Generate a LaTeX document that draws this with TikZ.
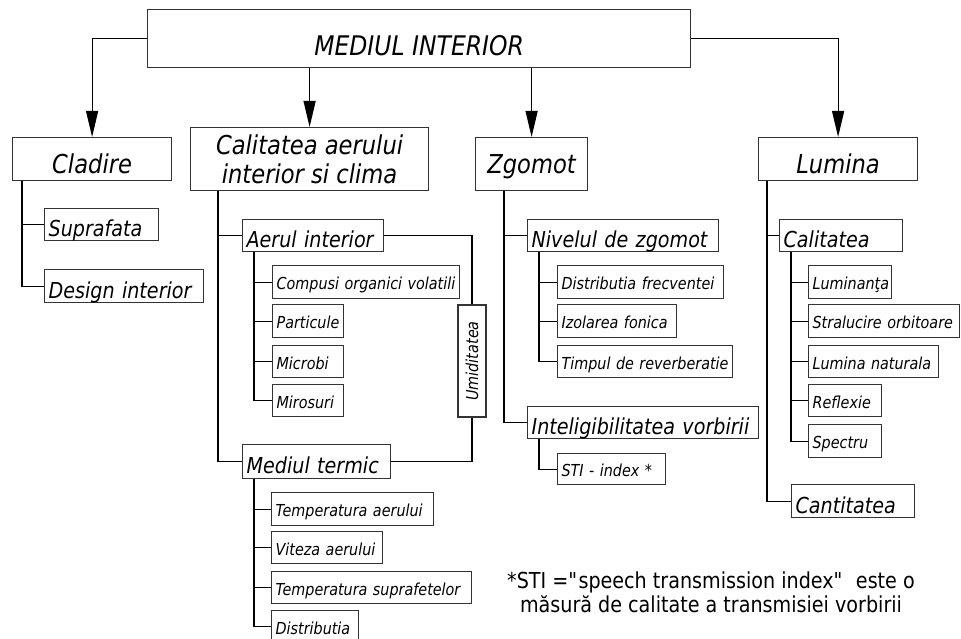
\documentclass[tikz,border=0pt]{standalone}
\usepackage{fontspec}
\setmainfont{DejaVu Sans}[FakeStretch=0.87]
\usetikzlibrary{arrows.meta}
\definecolor{boxgray}{HTML}{333333}

\begin{document}
\begin{tikzpicture}[x=1pt, y=-1pt,
    head/.style={draw=boxgray, line width=1.2pt, anchor=north west, inner sep=0pt, align=center, text height=29pt, text depth=0pt, font=\itshape\fontsize{26}{29}\selectfont},
    sub/.style={draw=boxgray, line width=1.2pt, anchor=north west, inner xsep=4pt, inner ysep=0pt, minimum height=33pt, text width=#1, align=left, text height=24pt, text depth=0pt, font=\itshape\fontsize{22}{26}\selectfont},
    leaf/.style={sub=#1, text height=15pt, font=\itshape\fontsize{16.5}{20}\selectfont},
    arrow/.style={-{Triangle[length=26pt, width=12pt]}, line width=1.2pt},
    link/.style={line width=1.2pt},
    note/.style={align=center, font=\fontsize{22}{24}\selectfont}
]
\useasboundingbox (0,0) rectangle (961,639);

% Top
\node[head, minimum width=543pt, minimum height=58pt, text height=34pt, font=\itshape\fontsize{27}{30}\selectfont] (top) at (147,9) {MEDIUL INTERIOR};

% Main groups
\node[head, minimum width=159pt, minimum height=43pt] (cladire) at (12,137) {Cladire};
\node[head, minimum width=238pt, minimum height=63pt, text height=, text depth=] (calit) at (190,127) {Calitatea aerului\\interior si clima};
\node[head, minimum width=112pt, minimum height=53pt, text height=19pt] (zgomot) at (475,137) {Zgomot};
\node[head, minimum width=159pt, minimum height=43pt] (lumina) at (758,137) {Lumina};

% Cladire
\node[sub=106pt, minimum height=32pt] (supraf) at (44,208) {Suprafata};
\node[sub=151pt] (design) at (44,269) {Design interior};

% Calitatea aerului
\node[sub=133pt, minimum height=32pt] (aer) at (242,219) {Aerul interior};
\node[leaf=179pt] (cov) at (272,265) {Compusi organici volatili};
\node[leaf=63pt] (partic) at (272,304) {Particule};
\node[leaf=63pt, minimum height=32pt] (microbi) at (272,345) {Microbi};
\node[leaf=63pt, minimum height=32pt] (miros) at (272,384) {Mirosuri};
\node[sub=140pt, minimum height=34pt] (termic) at (242,444) {Mediul termic};
\node[leaf=154pt] (tempaer) at (271,492) {Temperatura aerului};
\node[leaf=103pt, minimum height=32pt] (viteza) at (271,531) {Viteza aerului};
\node[leaf=192pt, minimum height=32pt] (tempsup) at (271,571) {Temperatura suprafetelor};
\node[leaf=79pt, minimum height=32pt] (distrib) at (271,610) {Distributia};
\node[draw=boxgray, line width=1.2pt, rotate=90, minimum width=112pt, minimum height=28pt, inner sep=0pt, font=\itshape\fontsize{16.5}{20}\selectfont] (umid) at (472,361) {Umiditatea};

% Zgomot
\node[sub=183pt, minimum height=32pt] (nivel) at (527,219) {Nivelul de zgomot};
\node[leaf=158pt] (distfrec) at (557,265) {Distributia frecventei};
\node[leaf=111pt] (izol) at (557,304) {Izolarea fonica};
\node[leaf=167pt, minimum height=32pt] (timp) at (557,345) {Timpul de reverberatie};
\node[sub=223pt, minimum height=32pt] (intelig) at (527,406) {Inteligibilitatea vorbirii};
\node[leaf=100pt, minimum height=31pt] (sti) at (557,453) {STI - index *};

% Lumina
\node[sub=115pt, minimum height=32pt] (calL) at (779,219) {Calitatea};
\node[leaf=75pt] (lumin) at (808,265) {Luminanţa};
\node[leaf=143pt] (stral) at (808,304) {Stralucire orbitoare};
\node[leaf=122pt, minimum height=32pt] (luminat) at (808,345) {Lumina naturala};
\node[leaf=65pt, minimum height=32pt] (reflex) at (808,384) {Reflexie};
\node[leaf=65pt] (spectru) at (808,424) {Spectru};
\node[sub=115pt] (cantit) at (791,484) {Cantitatea};

% Note
\node[note] (nota) at (711,592) {*STI =\textquotedbl speech transmission index\textquotedbl~ este o\\măsură de calitate a transmisiei vorbirii};

% Arrows
\draw[arrow] (top.west) -| (cladire.north);
\draw[arrow] (top.south -| calit.north) -- (calit.north);
\draw[arrow] (top.south -| zgomot.north) -- (zgomot.north);
\draw[arrow] (top.east) -| (lumina.north);

% Tree lines
\draw[link] ([xshift=10pt]cladire.south west) |- (supraf.west);
\draw[link] ([xshift=10pt]cladire.south west) |- (design.west);

\draw[link] ([xshift=28pt]calit.south west) |- (aer.west);
\draw[link] ([xshift=28pt]calit.south west) |- (termic.west);
\draw[link] ([xshift=12pt]aer.south west) |- (cov.west);
\draw[link] ([xshift=12pt]aer.south west) |- (partic.west);
\draw[link] ([xshift=12pt]aer.south west) |- (microbi.west);
\draw[link] ([xshift=12pt]aer.south west) |- (miros.west);
\draw[link] ([xshift=12pt]termic.south west) |- (tempaer.west);
\draw[link] ([xshift=12pt]termic.south west) |- (viteza.west);
\draw[link] ([xshift=12pt]termic.south west) |- (tempsup.west);
\draw[link] ([xshift=12pt]termic.south west) |- (distrib.west);
\draw[link] (aer.east) -| (umid.east);
\draw[link] (termic.east) -| (umid.west);

\draw[link] ([xshift=29pt]zgomot.south west) |- (nivel.west);
\draw[link] ([xshift=29pt]zgomot.south west) |- (intelig.west);
\draw[link] ([xshift=12pt]nivel.south west) |- (distfrec.west);
\draw[link] ([xshift=12pt]nivel.south west) |- (izol.west);
\draw[link] ([xshift=12pt]nivel.south west) |- (timp.west);
\draw[link] ([xshift=12pt]intelig.south west) |- (sti.west);

\draw[link] ([xshift=9pt]lumina.south west) |- (calL.west);
\draw[link] ([xshift=9pt]lumina.south west) |- (cantit.west);
\draw[link] ([xshift=12pt]calL.south west) |- (lumin.west);
\draw[link] ([xshift=12pt]calL.south west) |- (stral.west);
\draw[link] ([xshift=12pt]calL.south west) |- (luminat.west);
\draw[link] ([xshift=12pt]calL.south west) |- (reflex.west);
\draw[link] ([xshift=12pt]calL.south west) |- (spectru.west);

\end{tikzpicture}
\end{document}
